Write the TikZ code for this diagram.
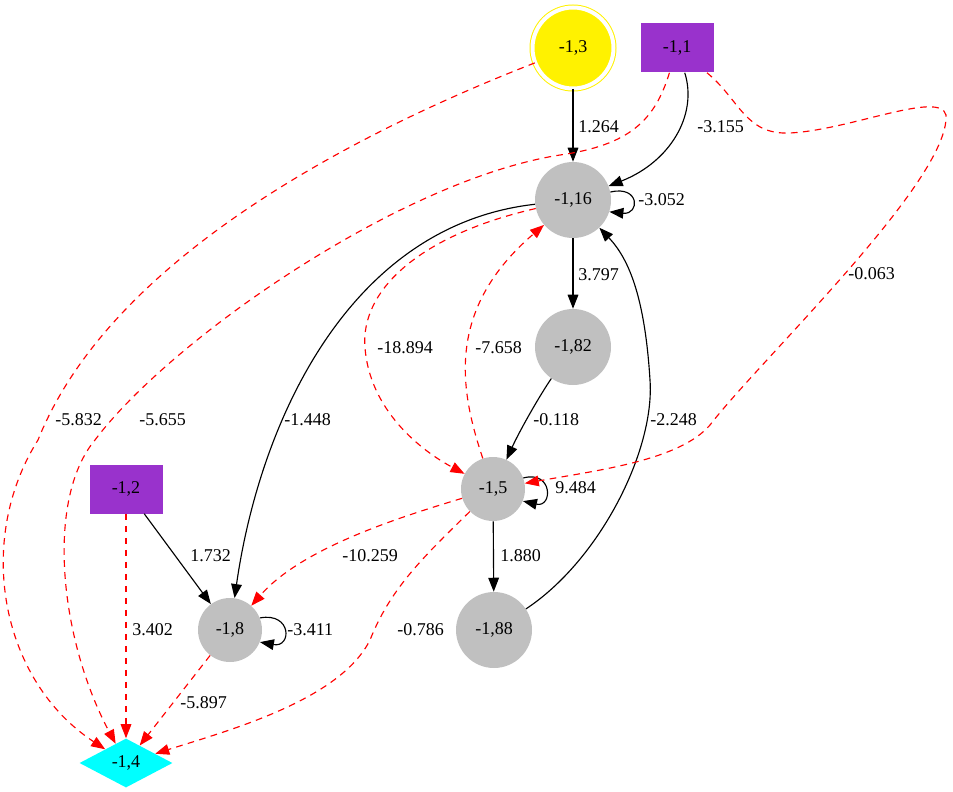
\documentclass[tikz,border=0pt]{standalone}
\usepackage{fontspec}
\setmainfont{Liberation Serif}
\usepackage{xcolor}
\usetikzlibrary{arrows.meta,shapes.geometric}

\definecolor{nodegray}{RGB}{192,192,192}
\definecolor{orchid}{RGB}{153,50,204}
\definecolor{aqua}{RGB}{0,255,255}

\begin{document}
\begin{tikzpicture}[x=0.75pt,y=-0.75pt,
    every node/.style={font=\fontsize{13.5}{16}\selectfont},
    blob/.style={circle,fill=nodegray,inner sep=0pt,minimum size=#1},
    box/.style={rectangle,fill=orchid,inner sep=0pt,minimum width=54.75pt,minimum height=36.75pt},
    sink/.style={diamond,fill=aqua,inner sep=0pt,minimum width=69.75pt,minimum height=36.75pt},
    source/.style={circle,fill=yellow,draw=yellow,line width=0.75pt,double=white,double distance=3pt,inner sep=0pt,minimum size=60.75pt},
    link/.style={draw=black,line width=0.85pt,-{Triangle[length=10.5pt,width=8pt]}},
    neg/.style={draw=red,line width=0.85pt,dash pattern=on 5pt off 4pt,-{Triangle[length=10.5pt,width=8pt]}},
    weight/.style={anchor=west,inner sep=0pt}]

		    \useasboundingbox (0,0) rectangle (953,792);

		    \node[source] (N3) at (573,48) {-1,3};
		    \node[box] (N1) at (677,48) {-1,1};
		    \node[blob=57pt] (N16) at (573,200) {-1,16};
		    \node[blob=57pt] (N82) at (573,347) {-1,82};
		    \node[blob=48pt] (N5) at (493,489) {-1,5};
		    \node[blob=57pt] (N88) at (494,630) {-1,88};
		    \node[blob=48pt] (N8) at (230,630) {-1,8};
		    \node[box] (N2) at (126,489) {-1,2};
		    \node[sink] (N4) at (126,763) {-1,4};

		    % solid edges
		    \draw[link] (N3) -- (N16);
		    \draw[link] (N1) .. controls (698,115) and (670,162) .. (N16);
		    \draw[link] (N16.12) .. controls (640,185) and (640,215) .. (N16.-18);
		    \draw[link] (N16) -- (N82);
		    \draw[link] (N82) .. controls (540,395) and (520,430) .. (N5);
		    \draw[link] (N5.20) .. controls (553,470) and (553,508) .. (N5.-22);
		    \draw[link] (N5) -- (N88);
		    \draw[link] (N88) .. controls (600,560) and (655,450) .. (650,380) .. controls (645,300) and (630,260) .. (N16);
		    \draw[link] (N16) .. controls (350,225) and (260,420) .. (N8);
		    \draw[link] (N2) -- (N8);
		    \draw[link] (N8.22) .. controls (292,612) and (292,648) .. (N8.-22);

		    % dashed edges
		    \draw[neg] (N3) .. controls (350,135) and (110,260) .. (38,440) .. controls (-25,540) and (0,680) .. (N4);
		    \draw[neg] (N1) .. controls (655,120) and (630,145) .. (560,155) .. controls (400,180) and (170,340) .. (95,440) .. controls (45,500) and (60,640) .. (N4);
		    \draw[neg] (N1) .. controls (740,100) and (745,135) .. (790,133) .. controls (850,130) and (940,90) .. (946,115) .. controls (950,180) and (760,360) .. (710,425) .. controls (680,460) and (600,470) .. (N5);
		    \draw[neg] (N16) .. controls (420,235) and (360,290) .. (365,348) .. controls (370,410) and (420,450) .. (N5);
		    \draw[neg] (N5) .. controls (460,390) and (445,310) .. (N16);
		    \draw[neg] (N5) .. controls (390,520) and (300,550) .. (N8);
		    \draw[neg] (N5) .. controls (420,560) and (390,590) .. (370,640) .. controls (340,700) and (230,730) .. (N4);
		    \draw[neg] (N2) -- (N4);
		    \draw[neg] (N8) -- (N4);

		    % weights
		    \node[weight] (w1) at (578,127) {1.264};
		    \node[weight] (w2) at (697,127) {-3.155};
		    \node[weight] (w3) at (638,200) {-3.052};
		    \node[weight] (w4) at (578,275) {3.797};
		    \node[weight] (w5) at (533,420) {-0.118};
		    \node[weight] (w6) at (555,488) {9.484};
		    \node[weight] (w7) at (500,556) {1.880};
		    \node[weight] (w8) at (650,420) {-2.248};
		    \node[weight] (w9) at (284,420) {-1.448};
		    \node[weight] (w10) at (377,348) {-18.894};
		    \node[weight] (w11) at (475,348) {-7.658};
		    \node[weight] (w12) at (848,274) {-0.063};
		    \node[weight] (w13) at (55,420) {-5.832};
		    \node[weight] (w14) at (139,420) {-5.655};
		    \node[weight] (w15) at (190,556) {1.732};
		    \node[weight] (w16) at (287,630) {-3.411};
		    \node[weight] (w17) at (132,630) {3.402};
		    \node[weight] (w18) at (180,703) {-5.897};
		    \node[weight] (w19) at (342,556) {-10.259};
		    \node[weight] (w20) at (397,630) {-0.786};

	    \end{tikzpicture}
\end{document}
